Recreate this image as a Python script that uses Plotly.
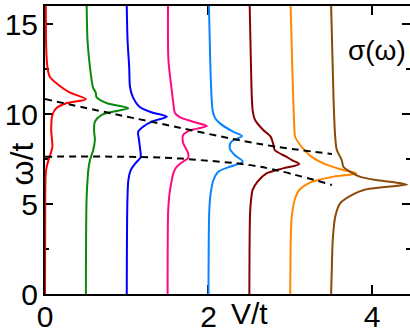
import plotly.graph_objects as go

# Offsets (V/t) of each spectrum
V_values = [0.0, 0.5, 1.0, 1.5, 2.0, 2.5, 3.0, 3.5]
colors = ['#ff0000', '#0a8a0a', '#0000ff', '#ff0a80', '#0a84ff', '#850000', '#ff8800', '#8b4a0a']

# omega/t samples and sigma(omega) (in V/t units) for each spectrum
w_red = [16, 13.6, 12.6, 12.05, 11.6, 11.2, 10.83, 10.6, 10.33, 9.94, 9.1, 8.17, 7.61, 7.06, 6.6, 5.2, 0]
s_red = [0.01, 0.015, 0.03, 0.06, 0.17, 0.3, 0.5, 0.26, 0.14, 0.09, 0.076, 0.09, 0.055, 0.02, 0.008, 0.003, 0]

w_green = [16, 14.1, 12.6, 11.9, 11.44, 11.2, 10.94, 10.6, 10.32, 10.13, 9.94, 9.57, 9.1, 8.56, 8.0, 7.44, 6.9, 6.33, 5.2, 0]
s_green = [0.01, 0.02, 0.05, 0.07, 0.09, 0.12, 0.13, 0.26, 0.52, 0.33, 0.19, 0.11, 0.10, 0.11, 0.09, 0.05, 0.03, 0.02, 0.008, 0]

w_blue = [16, 14.1, 12.6, 11.5, 10.94, 10.39, 10.1, 9.85, 9.6, 9.29, 9.02, 8.56, 8.0, 7.6, 7.28, 6.9, 6.33, 5.2, 0]
s_blue = [0.0, 0.01, 0.03, 0.04, 0.075, 0.16, 0.3, 0.49, 0.32, 0.2, 0.14, 0.15, 0.165, 0.17, 0.11, 0.05, 0.02, 0.008, 0]

w_pink = [16, 13.0, 11.33, 10.6, 10.06, 9.83, 9.57, 9.33, 9.1, 8.83, 8.39, 7.83, 7.56, 7.26, 7.0, 6.7, 5.78, 5.2, 4.4, 0]
s_pink = [0.005, 0.01, 0.05, 0.07, 0.09, 0.15, 0.31, 0.48, 0.28, 0.19, 0.19, 0.25, 0.25, 0.16, 0.1, 0.07, 0.03, 0.015, 0.005, 0]

w_lblue = [16, 11.72, 10.22, 9.78, 9.48, 9.02, 8.78, 8.46, 8.09, 7.72, 7.35, 7.07, 6.79, 6.33, 5.6, 4.67, 0]
s_lblue = [0.006, 0.03, 0.05, 0.08, 0.14, 0.3, 0.41, 0.28, 0.26, 0.32, 0.42, 0.26, 0.12, 0.06, 0.027, 0.01, 0]

w_dred = [16, 12.6, 10.22, 9.67, 9.11, 8.74, 8.37, 8.0, 7.63, 7.44, 7.22, 6.98, 6.7, 6.24, 5.78, 5.2, 4.4, 0]
s_dred = [0.004, 0.02, 0.04, 0.07, 0.17, 0.26, 0.29, 0.31, 0.45, 0.52, 0.61, 0.41, 0.21, 0.1, 0.04, 0.02, 0.008, 0]

w_orange = [16, 12.6, 9.28, 8.72, 8.18, 7.63, 7.17, 6.89, 6.7, 6.52, 6.24, 5.78, 5.32, 4.83, 4.11, 3.0, 0]
s_orange = [0.005, 0.025, 0.05, 0.06, 0.14, 0.26, 0.45, 0.65, 0.81, 0.53, 0.27, 0.11, 0.06, 0.035, 0.015, 0.006, 0]

w_brown = [16, 10.78, 8.72, 8.0, 7.44, 7.07, 6.8, 6.52, 6.33, 6.22, 6.08, 5.94, 5.78, 5.56, 5.04, 4.29, 3.0, 1.33, 0]
s_brown = [0.0, 0.03, 0.05, 0.07, 0.13, 0.15, 0.23, 0.35, 0.55, 0.75, 0.93, 0.65, 0.4, 0.28, 0.11, 0.05, 0.02, 0.008, 0]

omegas = [w_red, w_green, w_blue, w_pink, w_lblue, w_dred, w_orange, w_brown]
sigmas = [s_red, s_green, s_blue, s_pink, s_lblue, s_dred, s_orange, s_brown]

# Dashed guide lines (V/t, omega/t)
upper_V = [0, 0.64, 1.28, 2.63, 3.51]
upper_w = [10.83, 10.2, 9.59, 8.33, 7.78]
lower_V = [0, 1.28, 1.9, 2.63, 3.51]
lower_w = [7.63, 7.6, 7.44, 7.07, 6.06]

FONT = 'Liberation Sans, Arial, sans-serif'

fig = go.Figure()
for V, w, s, c in zip(V_values, omegas, sigmas, colors):
    fig.add_trace(go.Scatter(x=[V + v for v in s], y=w, mode='lines',
                             line=dict(color=c, width=2, shape='spline', smoothing=0.8),
                             showlegend=False, hoverinfo='skip'))

for xv, yv in [(upper_V, upper_w), (lower_V, lower_w)]:
    fig.add_trace(go.Scatter(x=xv, y=yv, mode='lines',
                             line=dict(color='black', width=2, dash='7px,5px', shape='spline'),
                             showlegend=False, hoverinfo='skip'))

# dummy trace to anchor right-hand tick axis
fig.add_trace(go.Scatter(x=[], y=[], yaxis='y2', showlegend=False))

fig.update_layout(
    width=410, height=332,
    margin=dict(l=45, r=0, t=6, b=38),
    paper_bgcolor='white', plot_bgcolor='white',
    font=dict(family=FONT, size=30, color='black'),
    xaxis=dict(range=[0, 4.465], showgrid=False, zeroline=False, automargin=False,
               showline=True, linecolor='black', linewidth=2, mirror='ticks',
               ticks='inside', ticklen=9, tickwidth=2, tickcolor='black',
               tickvals=[0, 2, 4], ticktext=['0', '2', '4'], ticklabelstandoff=-5,
               tickfont=dict(size=30, family=FONT), layer='below traces'),
    yaxis=dict(range=[0, 16], showgrid=False, zeroline=False, automargin=False,
               showline=True, linecolor='black', linewidth=2,
               ticks='inside', ticklen=8, tickwidth=2, tickcolor='black',
               tickvals=[0, 5, 10, 15], ticklabelstandoff=-1,
               minor=dict(tickvals=[2.5, 7.5, 12.5], ticklen=4, tickwidth=2, ticks='inside', tickcolor='black'),
               tickfont=dict(size=30, family=FONT), layer='below traces'),
    yaxis2=dict(range=[0, 16], overlaying='y', side='right', showgrid=False, zeroline=False,
                automargin=False,
                showline=False, ticks='inside', ticklen=8, tickwidth=2, tickcolor='black',
                tickvals=[0, 5, 10, 15], showticklabels=False,
                minor=dict(tickvals=[2.5, 7.5, 12.5], ticklen=4, tickwidth=2, ticks='inside', tickcolor='black')),
    annotations=[
        dict(text='σ(ω)', xref='paper', yref='paper', x=0.9096, y=0.847,
             xanchor='center', yanchor='middle', showarrow=False, font=dict(size=28, family=FONT)),
        dict(text='V/t', xref='paper', yref='paper', x=0.559, y=-0.069,
             xanchor='center', yanchor='middle', showarrow=False, font=dict(size=30, family=FONT)),
        dict(text='ω/t', xref='paper', yref='paper', x=-0.063, y=0.45, textangle=-90,
             xanchor='center', yanchor='middle', showarrow=False, font=dict(size=32, family=FONT)),
    ],
)

fig.write_html('out.html', config={'displayModeBar': False},
               post_script="document.body.style.margin='0';document.body.style.overflow='hidden';")
